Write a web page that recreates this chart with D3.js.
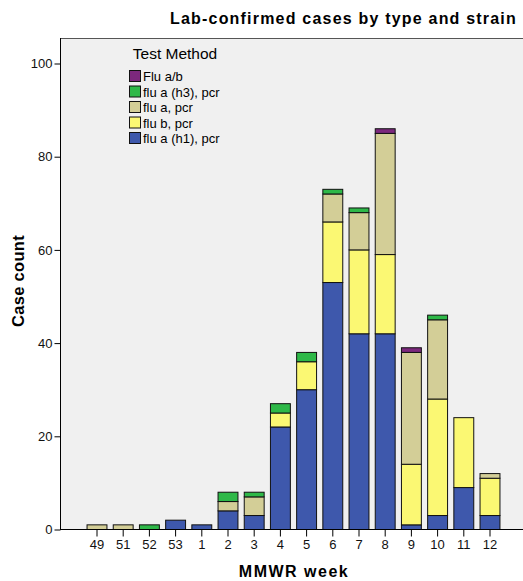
<!DOCTYPE html>
<html>
<head>
<meta charset="utf-8">
<script src="https://cdn.jsdelivr.net/npm/d3@7"></script>
<style>
  body { margin: 0; background: #fff; }
  svg { font-family: "Liberation Sans", Arial, sans-serif; display: block; }
</style>
</head>
<body>
<svg id="chart" width="523" height="581"></svg>
<script>
// MMWR weeks shown on the x axis
const weeks = ["49", "51", "52", "53", "1", "2", "3", "4", "5", "6", "7", "8", "9", "10", "11", "12"];

// counts per test method, stacked bottom -> top
const fluAH1 = [0, 0, 0, 2, 1, 4, 3, 22, 30, 53, 42, 42, 1, 3, 9, 3];
const fluB = [0, 0, 0, 0, 0, 0, 0, 3, 6, 13, 18, 17, 13, 25, 15, 8];
const fluA = [1, 1, 0, 0, 0, 2, 4, 0, 0, 6, 8, 26, 24, 17, 0, 1];
const fluAH3 = [0, 0, 1, 0, 0, 2, 1, 2, 2, 1, 1, 0, 0, 1, 0, 0];
const fluAB = [0, 0, 0, 0, 0, 0, 0, 0, 0, 0, 0, 1, 1, 0, 0, 0];

const yTicks = [0, 20, 40, 60, 80, 100];

const methods = [
  { key: "h1", label: "flu a (h1), pcr", values: fluAH1, color: "#3E58AC" },
  { key: "b", label: "flu b, pcr", values: fluB, color: "#FBF873" },
  { key: "a", label: "flu a, pcr", values: fluA, color: "#D3CE97" },
  { key: "h3", label: "flu a (h3), pcr", values: fluAH3, color: "#2EB848" },
  { key: "ab", label: "Flu a/b", values: fluAB, color: "#7C287D" },
];

const rows = weeks.map((w, i) => {
  const r = { week: w };
  methods.forEach((m) => (r[m.key] = m.values[i]));
  return r;
});

const svg = d3.select("#chart");
const m = { left: 60, top: 38, right: 0, bottom: 52 };
const W = 523, H = 581;

// plot background + frame
svg.append("rect")
  .attr("x", m.left).attr("y", m.top)
  .attr("width", W - m.left).attr("height", H - m.bottom - m.top)
  .attr("fill", "#f0f0f0");
svg.append("line")
  .attr("x1", m.left).attr("x2", W).attr("y1", m.top + 0.5).attr("y2", m.top + 0.5)
  .attr("stroke", "#555").attr("stroke-width", 1);

const x = d3.scaleBand()
  .domain(weeks)
  .range([83.9, 503.1])
  .paddingInner(0.24)
  .paddingOuter(0.12);

const y = d3.scaleLinear().domain([0, 100]).range([529.5, 63.5]);

const stack = d3.stack().keys(methods.map((d) => d.key));
const layers = stack(rows);

layers.forEach((layer, li) => {
  svg.append("g")
    .selectAll("rect")
    .data(layer.filter((d) => d[1] > d[0]))
    .join("rect")
    .attr("x", (d) => x(d.data.week))
    .attr("width", x.bandwidth())
    .attr("y", (d) => y(d[1]))
    .attr("height", (d) => y(d[0]) - y(d[1]))
    .attr("fill", methods[li].color)
    .attr("stroke", "#111")
    .attr("stroke-width", 1);
});

// y axis
const yAxis = svg.append("g")
  .attr("transform", `translate(${m.left + 0.5},0)`)
  .call(d3.axisLeft(y).tickValues(yTicks).tickSize(6).tickPadding(2));
yAxis.select(".domain").attr("d", `M0,${m.top}V${y(0)}`).attr("stroke", "#000");
yAxis.selectAll("text").attr("font-size", 13).attr("fill", "#111").attr("font-family", "Liberation Sans, Arial, sans-serif");

// x axis
const xAxis = svg.append("g")
  .attr("transform", `translate(0,${y(0)})`)
  .call(d3.axisBottom(x).tickSize(7).tickPadding(3));
xAxis.select(".domain").attr("d", `M${m.left},0H${W}`).attr("stroke", "#000");
xAxis.selectAll("text").attr("font-size", 13).attr("fill", "#111").attr("font-family", "Liberation Sans, Arial, sans-serif");

// titles
svg.append("text")
  .attr("x", 517).attr("y", 24)
  .attr("text-anchor", "end")
  .attr("font-size", 16).attr("font-weight", "bold")
  .attr("letter-spacing", 1.2)
  .text("Lab-confirmed cases by type and strain");

svg.append("text")
  .attr("x", 294).attr("y", 577)
  .attr("text-anchor", "middle")
  .attr("font-size", 16).attr("font-weight", "bold")
  .attr("letter-spacing", 1.5)
  .text("MMWR week");

svg.append("text")
  .attr("transform", "translate(24,281) rotate(-90)")
  .attr("text-anchor", "middle")
  .attr("font-size", 16.5).attr("font-weight", "bold")
  .attr("letter-spacing", 0.3)
  .text("Case count");

// legend
const lg = svg.append("g");
lg.append("text")
  .attr("x", 175).attr("y", 59)
  .attr("text-anchor", "middle")
  .attr("font-size", 15.5)
  .text("Test Method");

const legendItems = methods.slice().reverse();
legendItems.forEach((d, i) => {
  const yy = 70.5 + i * 15.5;
  lg.append("rect")
    .attr("x", 129.5).attr("y", yy)
    .attr("width", 11).attr("height", 11)
    .attr("fill", d.color).attr("stroke", "#111");
  lg.append("text")
    .attr("x", 143).attr("y", yy + 10.5)
    .attr("font-size", 13)
    .text(d.label);
});
</script>
</body>
</html>
